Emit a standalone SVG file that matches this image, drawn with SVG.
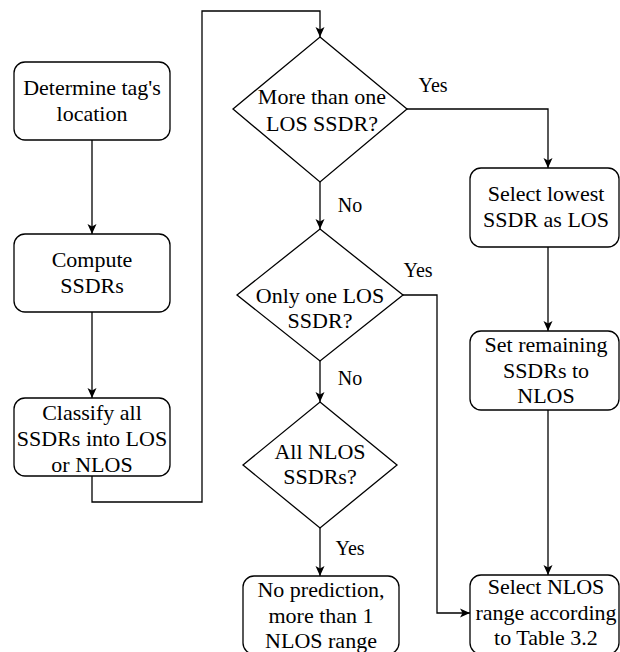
<svg xmlns="http://www.w3.org/2000/svg" width="620" height="652" viewBox="0 0 620 652">
<defs>
<marker id="arr" markerUnits="userSpaceOnUse" markerWidth="11" markerHeight="10" refX="10" refY="5" orient="auto">
<path d="M0,0.5 L10,5 L0,9.5 L2.5,5 z" fill="#000"/>
</marker>
</defs>
<rect width="620" height="652" fill="#fff"/>
<g id="connectors" fill="none" stroke="#000" stroke-width="1.3" marker-end="url(#arr)">
<path d="M92,140 V234"/>
<path d="M92,312 V398"/>
<path d="M92,476 V502 H202 V11 H320 V37"/>
<path d="M407,109 H548 V168"/>
<path d="M320,182 V229"/>
<path d="M548,247 V331"/>
<path d="M403,295 H437 V613 H470"/>
<path d="M320,361 V402"/>
<path d="M548,410 V575"/>
<path d="M320,528 V576"/>
</g>
<g id="labels" font-family="Liberation Serif" font-size="20" text-anchor="middle">
<text x="433" y="92">Yes</text>
<text x="350" y="212">No</text>
<text x="418" y="277">Yes</text>
<text x="350" y="385">No</text>
<text x="350" y="555">Yes</text>
</g>
<g font-family="Liberation Serif" font-size="22" text-anchor="middle">
<g id="n1">
<rect fill="#fff" stroke="#000" stroke-width="1.3" x="14" y="62" width="156" height="78" rx="11"/>
<text x="92" y="95">Determine tag's</text>
<text x="92" y="121">location</text>
</g>
<g id="n2">
<rect fill="#fff" stroke="#000" stroke-width="1.3" x="14" y="234" width="156" height="78" rx="11"/>
<text x="92" y="267">Compute</text>
<text x="92" y="293">SSDRs</text>
</g>
<g id="n3">
<rect fill="#fff" stroke="#000" stroke-width="1.3" x="14" y="398" width="156" height="78" rx="11"/>
<text x="92" y="420">Classify all</text>
<text x="92" y="446">SSDRs into LOS</text>
<text x="92" y="472">or NLOS</text>
</g>
<g id="d1">
<polygon fill="#fff" stroke="#000" stroke-width="1.3" points="320,37 407,109 320,182 233,109"/>
<text x="322" y="104">More than one</text>
<text x="322" y="131">LOS SSDR?</text>
</g>
<g id="d2">
<polygon fill="#fff" stroke="#000" stroke-width="1.3" points="320,229 403,295 320,361 237,295"/>
<text x="320" y="303">Only one LOS</text>
<text x="320" y="328">SSDR?</text>
</g>
<g id="d3">
<polygon fill="#fff" stroke="#000" stroke-width="1.3" points="320,402 397,465 320,528 243,465"/>
<text x="320" y="459">All NLOS</text>
<text x="320" y="484">SSDRs?</text>
</g>
<g id="n4">
<rect fill="#fff" stroke="#000" stroke-width="1.3" x="470" y="168" width="149" height="79" rx="11"/>
<text x="546" y="201">Select lowest</text>
<text x="546" y="227">SSDR as LOS</text>
</g>
<g id="n5">
<rect fill="#fff" stroke="#000" stroke-width="1.3" x="470" y="331" width="149" height="79" rx="11"/>
<text x="546" y="352">Set remaining</text>
<text x="546" y="378">SSDRs to</text>
<text x="546" y="403">NLOS</text>
</g>
<g id="n6">
<rect fill="#fff" stroke="#000" stroke-width="1.3" x="243" y="576" width="156" height="78" rx="11"/>
<text x="321" y="597">No prediction,</text>
<text x="321" y="623">more than 1</text>
<text x="321" y="648">NLOS range</text>
</g>
<g id="n7">
<rect fill="#fff" stroke="#000" stroke-width="1.3" x="470" y="575" width="149" height="79" rx="11"/>
<text x="546" y="594">Select NLOS</text>
<text x="546" y="620">range according</text>
<text x="546" y="645">to Table 3.2</text>
</g>
</g>
</svg>
